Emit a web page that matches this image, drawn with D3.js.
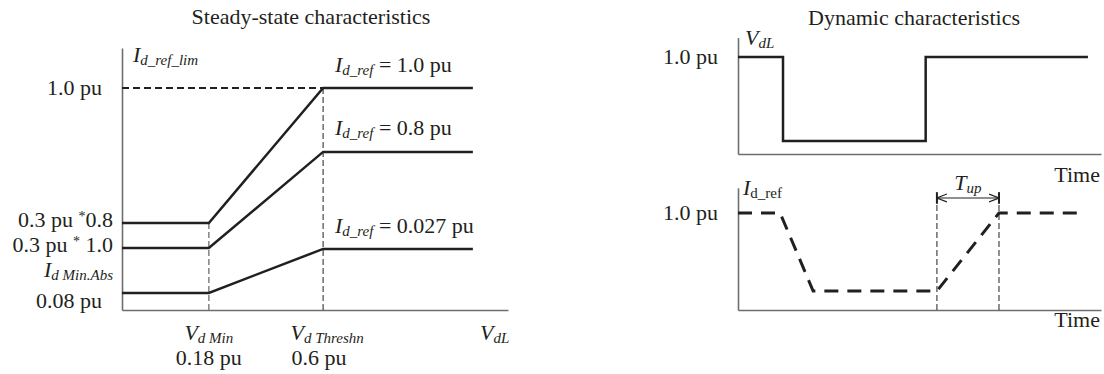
<!DOCTYPE html>
<html lang="en">
<head>
<meta charset="UTF-8">
<title>Steady-state and dynamic characteristics</title>
<script src="https://d3js.org/d3.v7.min.js"></script>
<style>
  body { margin: 0; background: #fff; }
  svg text { font-family: "Liberation Serif", "Times New Roman", serif; fill: #231f20; }
</style>
</head>
<body>
<div id="chart"></div>
<script>
// --- steady-state (schematic units: fraction of the axis) ---
const vBreaks = [0.225, 0.521];           // V_d Min, V_d Threshn
const steadyEnd = 0.909;
const lowLevels = [0.392, 0.279, 0.077];  // plateau left of V_d Min
const highLevels = [1.0, 0.712, 0.275];   // plateau right of V_d Threshn
const limitLevel = 1.0;

// --- dynamic (schematic time / level) ---
const vdlTime = [0, 0.124, 0.124, 0.517, 0.517, 0.964];
const vdlValue = [1, 1, 0.134, 0.134, 1, 1];
const idTime = [0, 0.116, 0.207, 0.548, 0.719, 0.950];
const idValue = [1, 1, 0.196, 0.196, 1, 1];
const tUp = [0.548, 0.719];

const width = 1104, height = 374;
const ink = "#231f20", axisGrey = "#6d6e71";

const svg = d3.select("#chart").append("svg")
    .attr("width", width).attr("height", height);

svg.append("defs").append("marker")
    .attr("id", "chev").attr("viewBox", "0 0 10 10")
    .attr("refX", 10).attr("refY", 5)
    .attr("markerWidth", 10).attr("markerHeight", 10)
    .attr("markerUnits", "userSpaceOnUse")
    .attr("orient", "auto-start-reverse")
    .append("path").attr("d", "M0,1 L10,5 L0,9")
    .attr("fill", "none").attr("stroke", ink).attr("stroke-width", 1.2);

// text with italic / subscript / superscript parts
function rich(x, y, parts, anchor, size) {
    size = size || 22;
    const t = svg.append("text").attr("x", x).attr("y", y)
        .attr("text-anchor", anchor || "start").style("font-size", size + "px");
    let shift = 0;
    parts.forEach(p => {
        const want = p.sub ? 3 : p.sup ? -6 : 0;
        const s = t.append("tspan").text(p.t).attr("dy", want - shift);
        shift = want;
        if (p.i) s.style("font-style", "italic");
        if (p.sub) s.style("font-size", "15px");
        if (p.sup) s.style("font-size", "14px");
    });
    return t;
}

function axes(x, y) {
    svg.append("g").attr("transform", `translate(0,${y(0)})`)
        .call(d3.axisBottom(x).tickValues([]).tickSizeOuter(0));
    svg.append("g").attr("transform", `translate(${x(0)},0)`)
        .call(d3.axisLeft(y).tickValues([]).tickSizeOuter(0));
    svg.selectAll(".domain").attr("stroke", axisGrey).attr("stroke-width", 1.6);
}

const line = (x, y) => d3.line().x(d => x(d[0])).y(d => y(d[1]));

// ================= steady-state =================
const xS = d3.scaleLinear().domain([0, 1]).range([122, 508]);
const yS = d3.scaleLinear().domain([0, 1.18]).range([310, 48]);
axes(xS, yS);

svg.append("path")
    .attr("d", line(xS, yS)([[0, limitLevel], [vBreaks[1], limitLevel]]))
    .attr("fill", "none").attr("stroke", ink).attr("stroke-width", 2)
    .attr("stroke-dasharray", "7,4");

svg.append("path")
    .attr("d", line(xS, yS)([[vBreaks[0], 0], [vBreaks[0], lowLevels[0]]]))
    .attr("fill", "none").attr("stroke", "#808285").attr("stroke-width", 1.5)
    .attr("stroke-dasharray", "6,3");
svg.append("path")
    .attr("d", line(xS, yS)([[vBreaks[1], 0], [vBreaks[1], limitLevel]]))
    .attr("fill", "none").attr("stroke", ink).attr("stroke-width", 1)
    .attr("stroke-dasharray", "6,3");

lowLevels.forEach((lo, i) => {
    const hi = highLevels[i];
    svg.append("path")
        .attr("d", line(xS, yS)([[0, lo], [vBreaks[0], lo], [vBreaks[1], hi], [steadyEnd, hi]]))
        .attr("fill", "none").attr("stroke", ink).attr("stroke-width", 2.5);
});

svg.append("text").attr("x", 311).attr("y", 24).attr("text-anchor", "middle")
    .style("font-size", "22px").text("Steady-state characteristics");
rich(133, 62, [{t: "I", i: 1}, {t: "d_ref_lim", i: 1, sub: 1}]);
rich(335, 72, [{t: "I", i: 1}, {t: "d_ref", i: 1, sub: 1}, {t: " = 1.0 pu"}]);
rich(335, 135, [{t: "I", i: 1}, {t: "d_ref", i: 1, sub: 1}, {t: " = 0.8 pu"}]);
rich(335, 233, [{t: "I", i: 1}, {t: "d_ref", i: 1, sub: 1}, {t: " = 0.027 pu"}]);
rich(102, 95, [{t: "1.0 pu"}], "end");
rich(113, 227, [{t: "0.3 pu "}, {t: "*", sup: 1}, {t: "0.8"}], "end");
rich(113, 252, [{t: "0.3 pu "}, {t: "*", sup: 1}, {t: " 1.0"}], "end");
rich(113, 277, [{t: "I", i: 1}, {t: "d Min.Abs", i: 1, sub: 1}], "end");
rich(102, 308, [{t: "0.08 pu"}], "end");
rich(xS(vBreaks[0]), 340, [{t: "V", i: 1}, {t: "d Min", i: 1, sub: 1}], "middle");
rich(xS(vBreaks[0]), 365, [{t: "0.18 pu"}], "middle");
rich(xS(vBreaks[1]) + 4, 340, [{t: "V", i: 1}, {t: "d Threshn", i: 1, sub: 1}], "middle");
rich(xS(vBreaks[1]) - 4, 365, [{t: "0.6 pu"}], "middle");
rich(480, 340, [{t: "V", i: 1}, {t: "dL", i: 1, sub: 1}]);

// ================= dynamic =================
const xD = d3.scaleLinear().domain([0, 1]).range([738, 1101]);
const yTop = d3.scaleLinear().domain([0, 1.2]).range([154, 37.6]);
const yBot = d3.scaleLinear().domain([0, 1.26]).range([310, 187.8]);
axes(xD, yTop);
axes(xD, yBot);

svg.append("path")
    .attr("d", line(xD, yTop)(d3.zip(vdlTime, vdlValue)))
    .attr("fill", "none").attr("stroke", ink).attr("stroke-width", 2.5);

tUp.forEach(t => {
    svg.append("path")
        .attr("d", line(xD, yBot)([[t, 0], [t, 1.206]]))
        .attr("fill", "none").attr("stroke", ink).attr("stroke-width", 1)
        .attr("stroke-dasharray", "6,3");
    svg.append("path")
        .attr("d", line(xD, yBot)([[t, 1.095], [t, 1.215]]))
        .attr("fill", "none").attr("stroke", ink).attr("stroke-width", 2);
});
svg.append("path")
    .attr("d", line(xD, yBot)([[tUp[0], 1.155], [tUp[1], 1.155]]))
    .attr("fill", "none").attr("stroke", ink).attr("stroke-width", 1.2)
    .attr("marker-start", "url(#chev)").attr("marker-end", "url(#chev)");

svg.append("path")
    .attr("d", line(xD, yBot)(d3.zip(idTime, idValue)))
    .attr("fill", "none").attr("stroke", ink).attr("stroke-width", 3)
    .attr("stroke-dasharray", "14,9");

svg.append("text").attr("x", 914).attr("y", 25).attr("text-anchor", "middle")
    .style("font-size", "22px").text("Dynamic characteristics");
rich(745, 45, [{t: "V", i: 1}, {t: "dL", i: 1, sub: 1}]);
rich(718, 64, [{t: "1.0 pu"}], "end");
rich(1100, 182, [{t: "Time"}], "end");
rich(743, 195, [{t: "I", i: 1}, {t: "d_ref", sub: 1}]);
rich(718, 220, [{t: "1.0 pu"}], "end");
rich(xD((tUp[0] + tUp[1]) / 2), 190, [{t: "T", i: 1}, {t: "up", i: 1, sub: 1}], "middle");
rich(1100, 327, [{t: "Time"}], "end");
</script>
</body>
</html>
